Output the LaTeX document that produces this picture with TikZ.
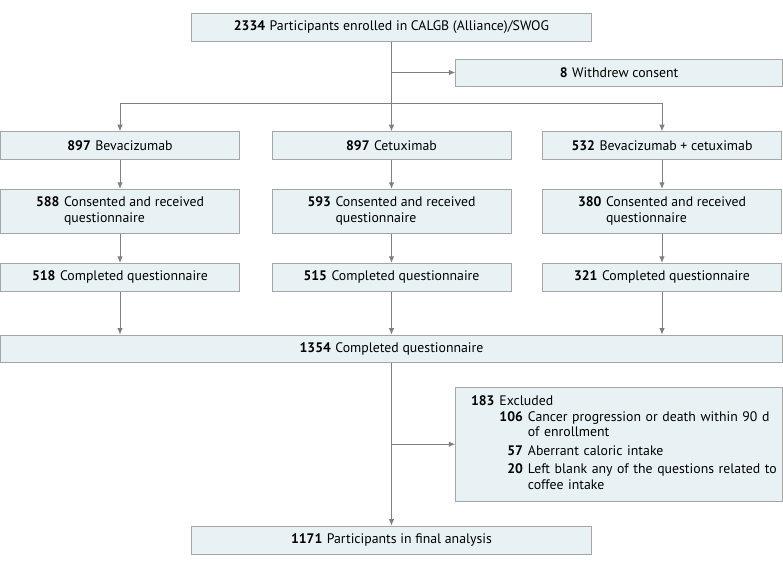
\documentclass[tikz,border=0pt]{standalone}
\usepackage{fontspec}
\setmainfont{PT Sans}
\usetikzlibrary{arrows.meta}
\definecolor{boxfill}{HTML}{E8F2F5}
\definecolor{boxline}{HTML}{A6A6A6}
\definecolor{linkgray}{HTML}{7F7F7F}
\newcommand{\cnt}[2]{\textbf{#1}\hspace{4.5bp}#2}
\newcommand{\cnttwo}[3]{\textbf{#1}\hspace{4.5bp}\begin{tabular}[t]{@{}l@{}}#2\\#3\end{tabular}}

\begin{document}
\begin{tikzpicture}[x=1bp, y=-1bp,
  box/.style={draw=boxline, fill=boxfill, line width=0.9bp, inner sep=0pt, font=\fontsize{13.8bp}{15.5bp}\selectfont},
  wide/.style={minimum width=400bp},
  arm/.style={minimum width=239bp},
  side/.style={minimum width=326.8bp},
  link/.style={draw=linkgray, line width=0.9bp, -{Latex[length=6.5bp,width=5.5bp]}}]
\useasboundingbox (0,0) rectangle (783,568);
\node[box, wide, minimum height=28.4bp] (enrolled) at (391.5,27.5) {\cnt{2334}{Participants enrolled in CALGB (Alliance)/SWOG}};
\node[box, side, minimum height=27bp] (withdrew) at (619.1,72.5) {\cnt{8}{Withdrew consent}};
\coordinate (split) at (391.5,103.3);
\node[box, arm, minimum height=27.6bp] (bev) at (120,145.5) {\cnt{897}{Bevacizumab}};
\node[box, arm, minimum height=27.6bp] (cet) at (391.5,145.5) {\cnt{897}{Cetuximab}};
\node[box, arm, minimum height=27.6bp] (combo) at (662,145.5) {\cnt{532}{Bevacizumab + cetuximab}};
\node[box, arm, minimum height=44bp] (bevq) at (120,211.3) {\cnttwo{588}{Consented and received}{questionnaire}};
\node[box, arm, minimum height=44bp] (cetq) at (391.5,211.3) {\cnttwo{593}{Consented and received}{questionnaire}};
\node[box, arm, minimum height=44bp] (comboq) at (662,211.3) {\cnttwo{380}{Consented and received}{questionnaire}};
\node[box, arm, minimum height=28.2bp] (bevc) at (120,277.4) {\cnt{518}{Completed questionnaire}};
\node[box, arm, minimum height=28.2bp] (cetc) at (391.5,277.4) {\cnt{515}{Completed questionnaire}};
\node[box, arm, minimum height=28.2bp] (comboc) at (662,277.4) {\cnt{321}{Completed questionnaire}};
\node[box, minimum width=782bp, minimum height=27.7bp] (total) at (391.5,348.9) {\cnt{1354}{Completed questionnaire}};
\node[box, side, minimum height=113.7bp, inner xsep=15.3bp, text width=296.2bp, align=left] (excluded) at (619.1,444.2) {%
  \begin{tabular}{@{}l@{\hspace{5bp}}r@{\hspace{5bp}}l@{}}
  \textbf{183} & \multicolumn{2}{@{}l@{}}{Excluded}\\
  & \textbf{106} & Cancer progression or death within 90 d\\
  & & of enrollment\\[3bp]
  & \textbf{57} & Aberrant caloric intake\\[3bp]
  & \textbf{20} & Left blank any of the questions related to\\
  & & coffee intake
  \end{tabular}};
\node[box, wide, minimum height=28bp] (final) at (391.5,540) {\cnt{1171}{Participants in final analysis}};
\draw[link] (enrolled) -- (cet);
\draw[link] (enrolled.south |- withdrew) -- (withdrew);
\draw[link] (split) -| (bev);
\draw[link] (split) -| (combo);
\draw[link] (bev) -- (bevq);
\draw[link] (cet) -- (cetq);
\draw[link] (combo) -- (comboq);
\draw[link] (bevq) -- (bevc);
\draw[link] (cetq) -- (cetc);
\draw[link] (comboq) -- (comboc);
\draw[link] (bevc) -- (bevc |- total.north);
\draw[link] (cetc) -- (total);
\draw[link] (comboc) -- (comboc |- total.north);
\draw[link] (total) -- (final);
\draw[link] (total.south |- excluded) -- (excluded);
\end{tikzpicture}
\end{document}
